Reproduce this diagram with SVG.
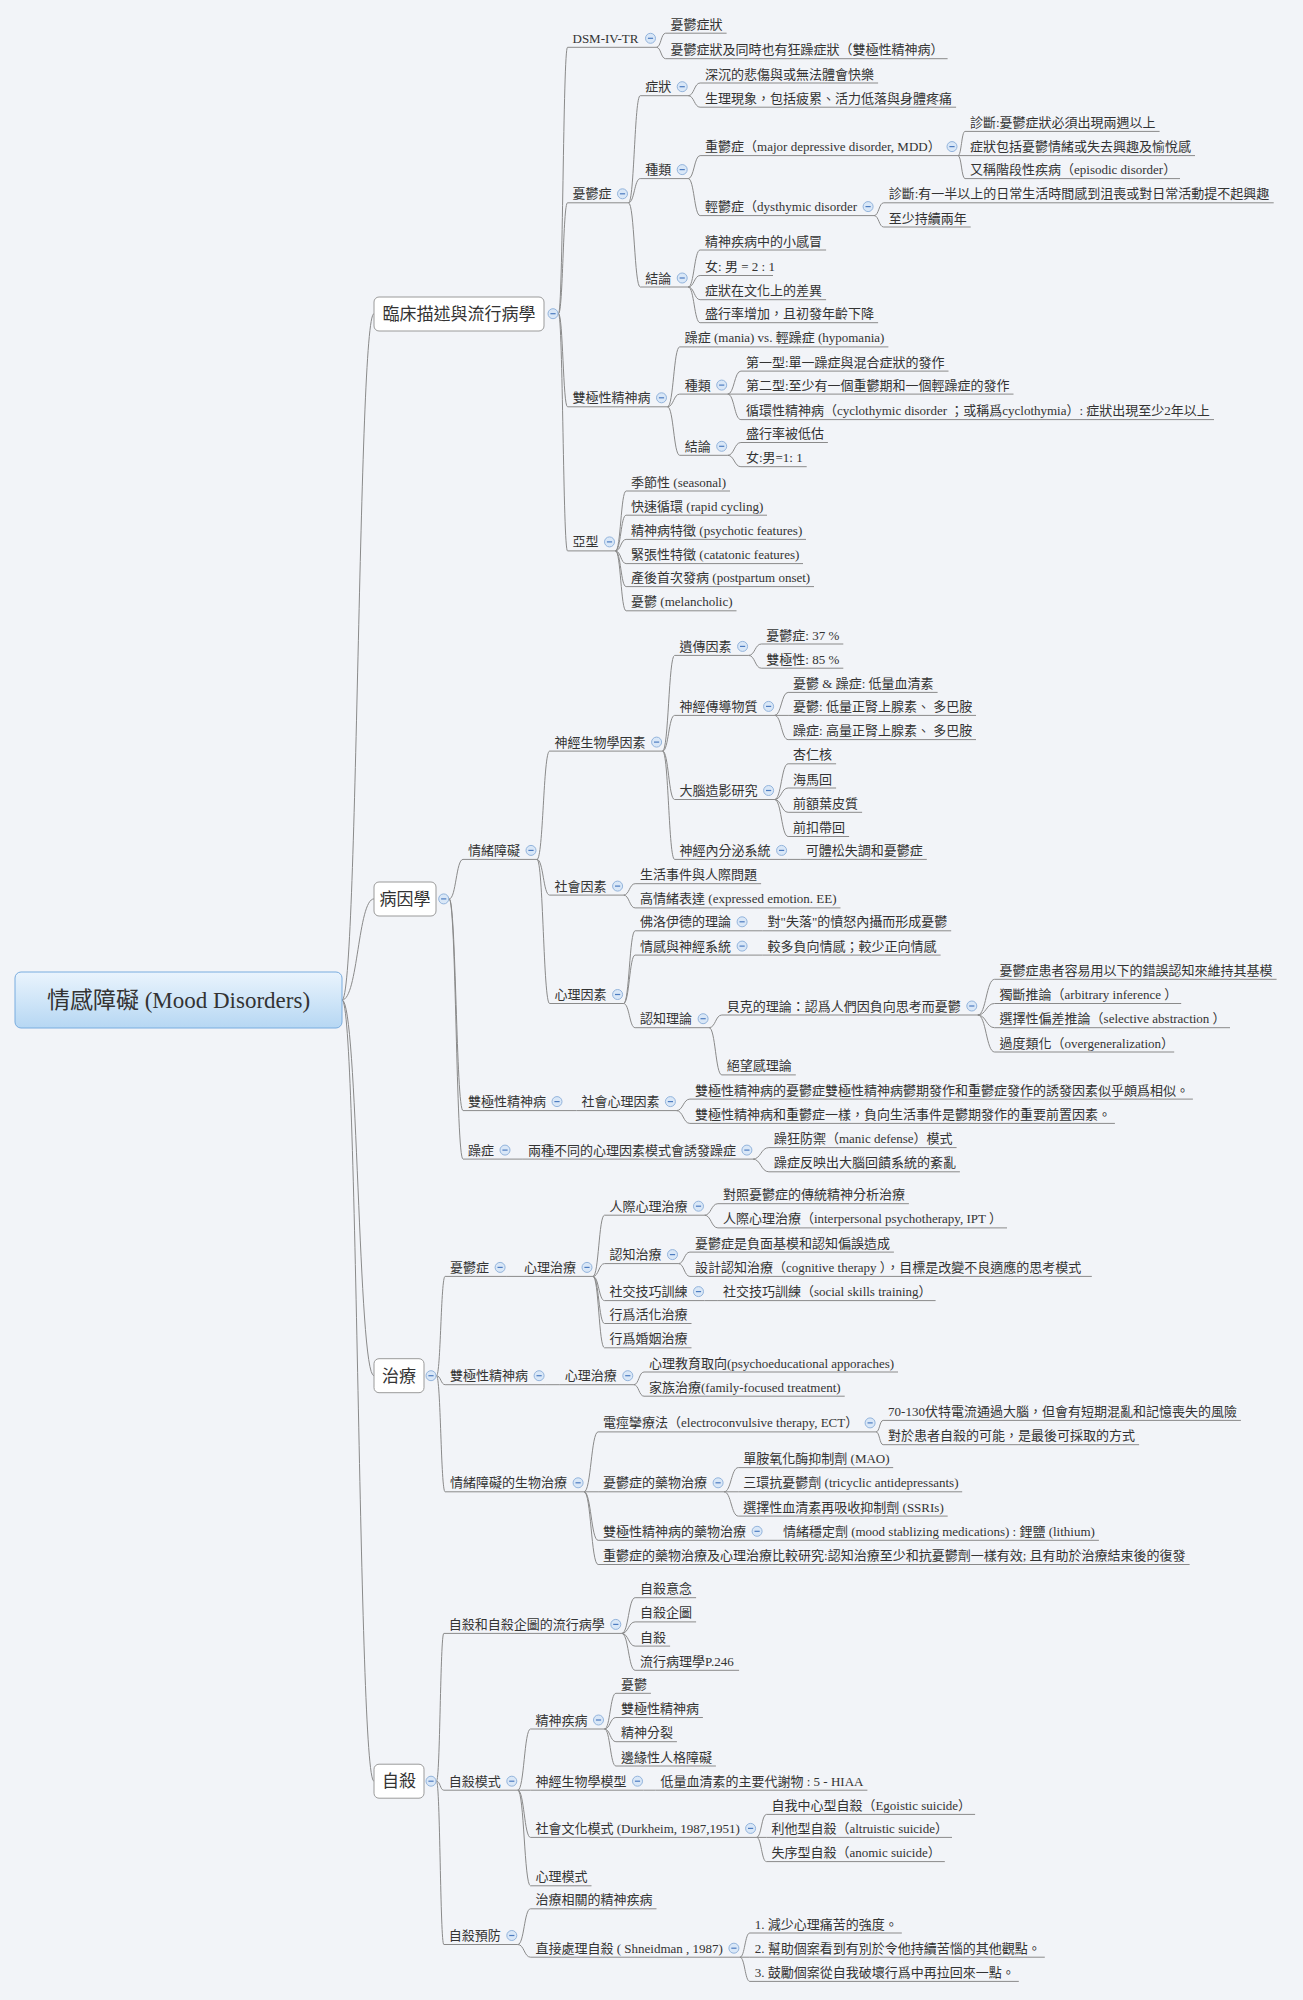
<svg xmlns="http://www.w3.org/2000/svg" xmlns:xlink="http://www.w3.org/1999/xlink" width="1303" height="2000" viewBox="0 0 1303 2000">
<style>
.t{font-family:"Liberation Serif","Noto Sans CJK TC",serif;font-size:13px;fill:#333}
.bt{font-family:"Liberation Serif","Noto Sans CJK TC",serif;font-size:17px;fill:#333;text-anchor:middle}
.rt{font-family:"Liberation Serif","Noto Sans CJK TC",serif;font-size:23px;fill:#333;text-anchor:middle}
.u{fill:none;stroke:#8a8a8a;stroke-width:1}
.c{fill:none;stroke:#8a8a8a;stroke-width:1}
.b{fill:#fff;stroke:#9a9a9a;stroke-width:1}
.tgc{fill:#d9e7f7;stroke:#93b4dc;stroke-width:1}
.tgm{stroke:#4d7cc0;stroke-width:1.2}
</style>
<defs>
<linearGradient id="rg" x1="0" y1="0" x2="0" y2="1"><stop offset="0" stop-color="#eaf4fd"/><stop offset="1" stop-color="#b6d7f3"/></linearGradient>
<g id="tog"><circle class="tgc" r="5"/><path class="tgm" d="M-2.6 0H2.6"/></g>
</defs>
<rect width="1303" height="2000" fill="#f2f4f8"/>

<g id="connectors">
<path class="c" d="M342 1000C358 1000 358 313.7 374 313.7M342 1000C358 1000 358 898.9 374 898.9M342 1000C358 1000 358 1375.7 374 1375.7M342 1000C358 1000 358 1781.2 374 1781.2"/>
<path class="c" d="M558.5 313.7C563 313.7 563 47.3 567.5 47.3M558.5 313.7C563 313.7 563 202.8 567.5 202.8M558.5 313.7C563 313.7 563 406.8 567.5 406.8M558.5 313.7C563 313.7 563 550.9 567.5 550.9"/>
<path class="c" d="M656.5 47.3C661 47.3 661 33.2 665.6 33.2M656.5 47.3C661 47.3 661 58.7 665.6 58.7"/>
<path class="c" d="M628.5 202.8C634.4 202.8 634.4 95.7 640.2 95.7M628.5 202.8C634.4 202.8 634.4 178.6 640.2 178.6M628.5 202.8C634.4 202.8 634.4 287 640.2 287"/>
<path class="c" d="M688.2 95.7C694.2 95.7 694.2 83 700.1 83M688.2 95.7C694.2 95.7 694.2 107.2 700.1 107.2"/>
<path class="c" d="M688.2 178.6C694.2 178.6 694.2 155.6 700.1 155.6M688.2 178.6C694.2 178.6 694.2 215.6 700.1 215.6"/>
<path class="c" d="M958 155.6C961.5 155.6 961.5 131.4 965 131.4M958 155.6H965M958 155.6C961.5 155.6 961.5 178.6 965 178.6"/>
<path class="c" d="M874.1 215.6C878.9 215.6 878.9 202.8 883.7 202.8M874.1 215.6C878.9 215.6 878.9 227 883.7 227"/>
<path class="c" d="M688.2 287C694.2 287 694.2 250 700.1 250M688.2 287C694.2 287 694.2 275.5 700.1 275.5M688.2 287C694.2 287 694.2 299.7 700.1 299.7M688.2 287C694.2 287 694.2 322.7 700.1 322.7"/>
<path class="c" d="M667.5 406.8C673.6 406.8 673.6 346.9 679.7 346.9M667.5 406.8C673.6 406.8 673.6 394.1 679.7 394.1M667.5 406.8C673.6 406.8 673.6 455.3 679.7 455.3"/>
<path class="c" d="M727.7 394.1C734.3 394.1 734.3 371.1 740.9 371.1M727.7 394.1H740.9M727.7 394.1C734.3 394.1 734.3 419.6 740.9 419.6"/>
<path class="c" d="M727.7 455.3C734.3 455.3 734.3 442.5 740.9 442.5M727.7 455.3C734.3 455.3 734.3 466.7 740.9 466.7"/>
<path class="c" d="M615.5 550.9C620.8 550.9 620.8 491 626.1 491M615.5 550.9C620.8 550.9 620.8 515.2 626.1 515.2M615.5 550.9C620.8 550.9 620.8 539.4 626.1 539.4M615.5 550.9C620.8 550.9 620.8 563.6 626.1 563.6M615.5 550.9C620.8 550.9 620.8 586.6 626.1 586.6M615.5 550.9C620.8 550.9 620.8 610.8 626.1 610.8"/>
<path class="c" d="M449.2 898.9C456.1 898.9 456.1 859.4 463 859.4M449.2 898.9C456.1 898.9 456.1 1110.6 463 1110.6M449.2 898.9C456.1 898.9 456.1 1159.1 463 1159.1"/>
<path class="c" d="M537 859.4C543.3 859.4 543.3 751.1 549.6 751.1M537 859.4C543.3 859.4 543.3 895.1 549.6 895.1M537 859.4C543.3 859.4 543.3 1003.5 549.6 1003.5"/>
<path class="c" d="M662.6 751.1C668.6 751.1 668.6 655.4 674.6 655.4M662.6 751.1C668.6 751.1 668.6 715.4 674.6 715.4M662.6 751.1C668.6 751.1 668.6 799.5 674.6 799.5M662.6 751.1C668.6 751.1 668.6 859.4 674.6 859.4"/>
<path class="c" d="M748.6 655.4C755 655.4 755 644 761.3 644M748.6 655.4C755 655.4 755 668.2 761.3 668.2"/>
<path class="c" d="M774.6 715.4C781.4 715.4 781.4 692.4 788.1 692.4M774.6 715.4H788.1M774.6 715.4C781.4 715.4 781.4 739.6 788.1 739.6"/>
<path class="c" d="M774.6 799.5C781.4 799.5 781.4 763.8 788.1 763.8M774.6 799.5C781.4 799.5 781.4 788 788.1 788M774.6 799.5C781.4 799.5 781.4 812.3 788.1 812.3M774.6 799.5C781.4 799.5 781.4 836.5 788.1 836.5"/>
<path class="c" d="M787.6 859.4H800.8"/>
<path class="c" d="M623.6 895.1C629.4 895.1 629.4 883.7 635.1 883.7M623.6 895.1C629.4 895.1 629.4 907.9 635.1 907.9"/>
<path class="c" d="M623.6 1003.5C629.4 1003.5 629.4 930.8 635.1 930.8M623.6 1003.5C629.4 1003.5 629.4 955.1 635.1 955.1M623.6 1003.5C629.4 1003.5 629.4 1027.7 635.1 1027.7"/>
<path class="c" d="M748.1 930.8H762.6M748.1 955.1H762.6"/>
<path class="c" d="M709.1 1027.7C715.5 1027.7 715.5 1015 721.8 1015M709.1 1027.7C715.5 1027.7 715.5 1074.9 721.8 1074.9"/>
<path class="c" d="M977.8 1015C986.2 1015 986.2 979.3 994.6 979.3M977.8 1015C986.2 1015 986.2 1003.5 994.6 1003.5M977.8 1015C986.2 1015 986.2 1027.7 994.6 1027.7M977.8 1015C986.2 1015 986.2 1052 994.6 1052"/>
<path class="c" d="M563 1110.6H576.4M676.4 1110.6C683.2 1110.6 683.2 1099.1 689.9 1099.1M676.4 1110.6C683.2 1110.6 683.2 1123.4 689.9 1123.4"/>
<path class="c" d="M511 1159.1H522.9M752.9 1159.1C760.9 1159.1 760.9 1147.6 768.9 1147.6M752.9 1159.1C760.9 1159.1 760.9 1171.8 768.9 1171.8"/>
<path class="c" d="M436.5 1375.7C440.8 1375.7 440.8 1276.4 445.1 1276.4M436.5 1375.7C440.8 1375.7 440.8 1384.7 445.1 1384.7M436.5 1375.7C440.8 1375.7 440.8 1491.8 445.1 1491.8"/>
<path class="c" d="M506.1 1276.4H519"/>
<path class="c" d="M593 1276.4C598.8 1276.4 598.8 1215.2 604.5 1215.2M593 1276.4C598.8 1276.4 598.8 1263.6 604.5 1263.6M593 1276.4C598.8 1276.4 598.8 1300.6 604.5 1300.6M593 1276.4C598.8 1276.4 598.8 1323.5 604.5 1323.5M593 1276.4C598.8 1276.4 598.8 1347.8 604.5 1347.8"/>
<path class="c" d="M704.5 1215.2C711.2 1215.2 711.2 1203.7 717.9 1203.7M704.5 1215.2C711.2 1215.2 711.2 1227.9 717.9 1227.9"/>
<path class="c" d="M678.5 1263.6C684.2 1263.6 684.2 1252.1 689.9 1252.1M678.5 1263.6C684.2 1263.6 684.2 1276.4 689.9 1276.4"/>
<path class="c" d="M704.5 1300.6H717.9"/>
<path class="c" d="M545.1 1384.7H559.8M633.8 1384.7C638.9 1384.7 638.9 1372 644 1372M633.8 1384.7C638.9 1384.7 638.9 1396.2 644 1396.2"/>
<path class="c" d="M584.1 1491.8C591.1 1491.8 591.1 1431.9 598.1 1431.9M584.1 1491.8H598.1M584.1 1491.8C591.1 1491.8 591.1 1540.3 598.1 1540.3M584.1 1491.8C591.1 1491.8 591.1 1564.5 598.1 1564.5"/>
<path class="c" d="M876.1 1431.9C879.6 1431.9 879.6 1420.4 883.1 1420.4M876.1 1431.9C879.6 1431.9 879.6 1444.7 883.1 1444.7"/>
<path class="c" d="M724.1 1491.8C731.2 1491.8 731.2 1467.6 738.3 1467.6M724.1 1491.8H738.3M724.1 1491.8C731.2 1491.8 731.2 1516.1 738.3 1516.1"/>
<path class="c" d="M763.1 1540.3H777.9"/>
<path class="c" d="M436.5 1781.2C440.2 1781.2 440.2 1633.4 443.8 1633.4M436.5 1781.2C440.2 1781.2 440.2 1790.2 443.8 1790.2M436.5 1781.2C440.2 1781.2 440.2 1944.5 443.8 1944.5"/>
<path class="c" d="M621.8 1633.4C628.5 1633.4 628.5 1597.7 635.1 1597.7M621.8 1633.4C628.5 1633.4 628.5 1621.9 635.1 1621.9M621.8 1633.4C628.5 1633.4 628.5 1646.1 635.1 1646.1M621.8 1633.4C628.5 1633.4 628.5 1670.3 635.1 1670.3"/>
<path class="c" d="M517.8 1790.2C524.2 1790.2 524.2 1729 530.5 1729M517.8 1790.2H530.5M517.8 1790.2C524.2 1790.2 524.2 1837.4 530.5 1837.4M517.8 1790.2C524.2 1790.2 524.2 1885.8 530.5 1885.8"/>
<path class="c" d="M604.5 1729C610.2 1729 610.2 1693.3 615.9 1693.3M604.5 1729C610.2 1729 610.2 1717.5 615.9 1717.5M604.5 1729C610.2 1729 610.2 1741.7 615.9 1741.7M604.5 1729C610.2 1729 610.2 1766 615.9 1766"/>
<path class="c" d="M643.5 1790.2H655.5"/>
<path class="c" d="M756.6 1837.4C761.5 1837.4 761.5 1814.4 766.4 1814.4M756.6 1837.4H766.4M756.6 1837.4C761.5 1837.4 761.5 1861.6 766.4 1861.6"/>
<path class="c" d="M517.8 1944.5C524.2 1944.5 524.2 1908.8 530.5 1908.8M517.8 1944.5C524.2 1944.5 524.2 1957.2 530.5 1957.2"/>
<path class="c" d="M739.9 1957.2C744.9 1957.2 744.9 1933 749.8 1933M739.9 1957.2H749.8M739.9 1957.2C744.9 1957.2 744.9 1981.4 749.8 1981.4"/>
</g>

<g id="root"><rect x="15" y="972" width="327" height="56" rx="6" fill="url(#rg)" stroke="#79acdf"/><text class="rt" x="178.5" y="1008">情感障礙 (Mood Disorders)</text></g>

<g id="n-clinical"><rect class="b" x="374" y="297" width="170" height="34" rx="5"/><text class="bt" x="459" y="319.7">臨床描述與流行病學</text><use xlink:href="#tog" x="553" y="313.7"/></g>
<g id="n-dsm"><path class="u" d="M567.5 47.3H656.5"/><text class="t" x="572.5" y="42.8">DSM-IV-TR</text><use xlink:href="#tog" x="650.5" y="38.3"/></g>
<g id="n-dsm-1"><path class="u" d="M665.6 33.2H726.6"/><text class="t" x="670.6" y="28.7">憂鬱症狀</text></g>
<g id="n-dsm-2"><path class="u" d="M665.6 58.7H947.6"/><text class="t" x="670.6" y="54.2">憂鬱症狀及同時也有狂躁症狀（雙極性精神病）</text></g>
<g id="n-dep"><path class="u" d="M567.5 202.8H628.5"/><text class="t" x="572.5" y="198.3">憂鬱症</text><use xlink:href="#tog" x="622.5" y="193.8"/></g>
<g id="n-dep-sym"><path class="u" d="M640.2 95.7H688.2"/><text class="t" x="645.2" y="91.2">症狀</text><use xlink:href="#tog" x="682.2" y="86.7"/></g>
<g id="n-dep-sym-1"><path class="u" d="M700.1 83H878.1"/><text class="t" x="705.1" y="78.5">深沉的悲傷與或無法體會快樂</text></g>
<g id="n-dep-sym-2"><path class="u" d="M700.1 107.2H956.1"/><text class="t" x="705.1" y="102.7">生理現象，包括疲累、活力低落與身體疼痛</text></g>
<g id="n-dep-type"><path class="u" d="M640.2 178.6H688.2"/><text class="t" x="645.2" y="174.1">種類</text><use xlink:href="#tog" x="682.2" y="169.6"/></g>
<g id="n-mdd"><path class="u" d="M700.1 155.6H958"/><text class="t" x="705.1" y="151.1">重鬱症（major depressive disorder, MDD）</text><use xlink:href="#tog" x="952" y="146.6"/></g>
<g id="n-mdd-1"><path class="u" d="M965 131.4H1159.6"/><text class="t" x="970" y="126.9">診斷:憂鬱症狀必須出現兩週以上</text></g>
<g id="n-mdd-2"><path class="u" d="M965 155.6H1195"/><text class="t" x="970" y="151.1">症狀包括憂鬱情緒或失去興趣及愉悅感</text></g>
<g id="n-mdd-3"><path class="u" d="M965 178.6H1180"/><text class="t" x="970" y="174.1">又稱階段性疾病（episodic disorder）</text></g>
<g id="n-dys"><path class="u" d="M700.1 215.6H874.1"/><text class="t" x="705.1" y="211.1">輕鬱症（dysthymic disorder</text><use xlink:href="#tog" x="868.1" y="206.6"/></g>
<g id="n-dys-1"><path class="u" d="M883.7 202.8H1273.7"/><text class="t" x="888.7" y="198.3">診斷:有一半以上的日常生活時間感到沮喪或對日常活動提不起興趣</text></g>
<g id="n-dys-2"><path class="u" d="M883.7 227H970.7"/><text class="t" x="888.7" y="222.5">至少持續兩年</text></g>
<g id="n-dep-con"><path class="u" d="M640.2 287H688.2"/><text class="t" x="645.2" y="282.5">結論</text><use xlink:href="#tog" x="682.2" y="278"/></g>
<g id="n-dep-con-1"><path class="u" d="M700.1 250H826.1"/><text class="t" x="705.1" y="245.5">精神疾病中的小感冒</text></g>
<g id="n-dep-con-2"><path class="u" d="M700.1 275.5H773"/><text class="t" x="705.1" y="271">女: 男 = 2 : 1</text></g>
<g id="n-dep-con-3"><path class="u" d="M700.1 299.7H826.1"/><text class="t" x="705.1" y="295.2">症狀在文化上的差異</text></g>
<g id="n-dep-con-4"><path class="u" d="M700.1 322.7H878.1"/><text class="t" x="705.1" y="318.2">盛行率增加，且初發年齡下降</text></g>
<g id="n-bip"><path class="u" d="M567.5 406.8H667.5"/><text class="t" x="572.5" y="402.3">雙極性精神病</text><use xlink:href="#tog" x="661.5" y="397.8"/></g>
<g id="n-bip-1"><path class="u" d="M679.7 346.9H888.4"/><text class="t" x="684.7" y="342.4">躁症 (mania) vs. 輕躁症 (hypomania)</text></g>
<g id="n-bip-type"><path class="u" d="M679.7 394.1H727.7"/><text class="t" x="684.7" y="389.6">種類</text><use xlink:href="#tog" x="721.7" y="385.1"/></g>
<g id="n-bip-type-1"><path class="u" d="M740.9 371.1H948.5"/><text class="t" x="745.9" y="366.6">第一型:單一躁症與混合症狀的發作</text></g>
<g id="n-bip-type-2"><path class="u" d="M740.9 394.1H1013.5"/><text class="t" x="745.9" y="389.6">第二型:至少有一個重鬱期和一個輕躁症的發作</text></g>
<g id="n-bip-type-3"><path class="u" d="M740.9 419.6H1214"/><text class="t" x="745.9" y="415.1">循環性精神病（cyclothymic disorder ；或稱爲cyclothymia）: 症狀出現至少2年以上</text></g>
<g id="n-bip-con"><path class="u" d="M679.7 455.3H727.7"/><text class="t" x="684.7" y="450.8">結論</text><use xlink:href="#tog" x="721.7" y="446.3"/></g>
<g id="n-bip-con-1"><path class="u" d="M740.9 442.5H827.9"/><text class="t" x="745.9" y="438">盛行率被低估</text></g>
<g id="n-bip-con-2"><path class="u" d="M740.9 466.7H806.7"/><text class="t" x="745.9" y="462.2">女:男=1: 1</text></g>
<g id="n-sub"><path class="u" d="M567.5 550.9H615.5"/><text class="t" x="572.5" y="546.4">亞型</text><use xlink:href="#tog" x="609.5" y="541.9"/></g>
<g id="n-sub-1"><path class="u" d="M626.1 491H730"/><text class="t" x="631.1" y="486.5">季節性 (seasonal)</text></g>
<g id="n-sub-2"><path class="u" d="M626.1 515.2H767"/><text class="t" x="631.1" y="510.7">快速循環 (rapid cycling)</text></g>
<g id="n-sub-3"><path class="u" d="M626.1 539.4H806"/><text class="t" x="631.1" y="534.9">精神病特徵 (psychotic features)</text></g>
<g id="n-sub-4"><path class="u" d="M626.1 563.6H803"/><text class="t" x="631.1" y="559.1">緊張性特徵 (catatonic features)</text></g>
<g id="n-sub-5"><path class="u" d="M626.1 586.6H814"/><text class="t" x="631.1" y="582.1">產後首次發病 (postpartum onset)</text></g>
<g id="n-sub-6"><path class="u" d="M626.1 610.8H736.5"/><text class="t" x="631.1" y="606.3">憂鬱 (melancholic)</text></g>

<g id="n-etio"><rect class="b" x="374" y="882" width="62" height="34" rx="5"/><text class="bt" x="405" y="904.9">病因學</text><use xlink:href="#tog" x="443.7" y="898.9"/></g>
<g id="n-mood"><path class="u" d="M463 859.4H537"/><text class="t" x="468" y="854.9">情緒障礙</text><use xlink:href="#tog" x="531" y="850.4"/></g>
<g id="n-neuro"><path class="u" d="M549.6 751.1H662.6"/><text class="t" x="554.6" y="746.6">神經生物學因素</text><use xlink:href="#tog" x="656.6" y="742.1"/></g>
<g id="n-gene"><path class="u" d="M674.6 655.4H748.6"/><text class="t" x="679.6" y="650.9">遺傳因素</text><use xlink:href="#tog" x="742.6" y="646.4"/></g>
<g id="n-gene-1"><path class="u" d="M761.3 644H843.3"/><text class="t" x="766.3" y="639.5">憂鬱症: 37 %</text></g>
<g id="n-gene-2"><path class="u" d="M761.3 668.2H843.3"/><text class="t" x="766.3" y="663.7">雙極性: 85 %</text></g>
<g id="n-nt"><path class="u" d="M674.6 715.4H774.6"/><text class="t" x="679.6" y="710.9">神經傳導物質</text><use xlink:href="#tog" x="768.6" y="706.4"/></g>
<g id="n-nt-1"><path class="u" d="M788.1 692.4H937.6"/><text class="t" x="793.1" y="687.9">憂鬱 &amp; 躁症: 低量血清素</text></g>
<g id="n-nt-2"><path class="u" d="M788.1 715.4H976"/><text class="t" x="793.1" y="710.9">憂鬱: 低量正腎上腺素、 多巴胺</text></g>
<g id="n-nt-3"><path class="u" d="M788.1 739.6H976"/><text class="t" x="793.1" y="735.1">躁症: 高量正腎上腺素、 多巴胺</text></g>
<g id="n-brain"><path class="u" d="M674.6 799.5H774.6"/><text class="t" x="679.6" y="795">大腦造影研究</text><use xlink:href="#tog" x="768.6" y="790.5"/></g>
<g id="n-brain-1"><path class="u" d="M788.1 763.8H836.1"/><text class="t" x="793.1" y="759.3">杏仁核</text></g>
<g id="n-brain-2"><path class="u" d="M788.1 788H836.1"/><text class="t" x="793.1" y="783.5">海馬回</text></g>
<g id="n-brain-3"><path class="u" d="M788.1 812.3H862.1"/><text class="t" x="793.1" y="807.8">前額葉皮質</text></g>
<g id="n-brain-4"><path class="u" d="M788.1 836.5H849.1"/><text class="t" x="793.1" y="832">前扣帶回</text></g>
<g id="n-endo"><path class="u" d="M674.6 859.4H787.6"/><text class="t" x="679.6" y="854.9">神經內分泌系統</text><use xlink:href="#tog" x="781.6" y="850.4"/></g>
<g id="n-endo-1"><path class="u" d="M800.8 859.4H926.8"/><text class="t" x="805.8" y="854.9">可體松失調和憂鬱症</text></g>
<g id="n-social"><path class="u" d="M549.6 895.1H623.6"/><text class="t" x="554.6" y="890.6">社會因素</text><use xlink:href="#tog" x="617.6" y="886.1"/></g>
<g id="n-social-1"><path class="u" d="M635.1 883.7H761.1"/><text class="t" x="640.1" y="879.2">生活事件與人際問題</text></g>
<g id="n-social-2"><path class="u" d="M635.1 907.9H840.5"/><text class="t" x="640.1" y="903.4">高情緒表達 (expressed emotion. EE)</text></g>
<g id="n-psy"><path class="u" d="M549.6 1003.5H623.6"/><text class="t" x="554.6" y="999">心理因素</text><use xlink:href="#tog" x="617.6" y="994.5"/></g>
<g id="n-freud"><path class="u" d="M635.1 930.8H748.1"/><text class="t" x="640.1" y="926.3">佛洛伊德的理論</text><use xlink:href="#tog" x="742.1" y="921.8"/></g>
<g id="n-freud-1"><path class="u" d="M762.6 930.8H951.2"/><text class="t" x="767.6" y="926.3">對"失落"的憤怒內攝而形成憂鬱</text></g>
<g id="n-aff"><path class="u" d="M635.1 955.1H748.1"/><text class="t" x="640.1" y="950.6">情感與神經系統</text><use xlink:href="#tog" x="742.1" y="946.1"/></g>
<g id="n-aff-1"><path class="u" d="M762.6 955.1H940.6"/><text class="t" x="767.6" y="950.6">較多負向情感；較少正向情感</text></g>
<g id="n-cog"><path class="u" d="M635.1 1027.7H709.1"/><text class="t" x="640.1" y="1023.2">認知理論</text><use xlink:href="#tog" x="703.1" y="1018.7"/></g>
<g id="n-beck"><path class="u" d="M721.8 1015H977.8"/><text class="t" x="726.8" y="1010.5">貝克的理論：認爲人們因負向思考而憂鬱</text><use xlink:href="#tog" x="971.8" y="1006"/></g>
<g id="n-beck-1"><path class="u" d="M994.6 979.3H1276.6"/><text class="t" x="999.6" y="974.8">憂鬱症患者容易用以下的錯誤認知來維持其基模</text></g>
<g id="n-beck-2"><path class="u" d="M994.6 1003.5H1181.2"/><text class="t" x="999.6" y="999">獨斷推論（arbitrary inference ）</text></g>
<g id="n-beck-3"><path class="u" d="M994.6 1027.7H1230"/><text class="t" x="999.6" y="1023.2">選擇性偏差推論（selective abstraction ）</text></g>
<g id="n-beck-4"><path class="u" d="M994.6 1052H1174.2"/><text class="t" x="999.6" y="1047.5">過度類化（overgeneralization）</text></g>
<g id="n-hope"><path class="u" d="M721.8 1074.9H795.8"/><text class="t" x="726.8" y="1070.4">絕望感理論</text></g>
<g id="n-bip2"><path class="u" d="M463 1110.6H563"/><text class="t" x="468" y="1106.1">雙極性精神病</text><use xlink:href="#tog" x="557" y="1101.6"/></g>
<g id="n-psysoc"><path class="u" d="M576.4 1110.6H676.4"/><text class="t" x="581.4" y="1106.1">社會心理因素</text><use xlink:href="#tog" x="670.4" y="1101.6"/></g>
<g id="n-psysoc-1"><path class="u" d="M689.9 1099.1H1192.9"/><text class="t" x="694.9" y="1094.6">雙極性精神病的憂鬱症雙極性精神病鬱期發作和重鬱症發作的誘發因素似乎頗爲相似。</text></g>
<g id="n-psysoc-2"><path class="u" d="M689.9 1123.4H1114.9"/><text class="t" x="694.9" y="1118.9">雙極性精神病和重鬱症一樣，負向生活事件是鬱期發作的重要前置因素。</text></g>
<g id="n-mania"><path class="u" d="M463 1159.1H511"/><text class="t" x="468" y="1154.6">躁症</text><use xlink:href="#tog" x="505" y="1150.1"/></g>
<g id="n-mania-1"><path class="u" d="M522.9 1159.1H752.9"/><text class="t" x="527.9" y="1154.6">兩種不同的心理因素模式會誘發躁症</text><use xlink:href="#tog" x="746.9" y="1150.1"/></g>
<g id="n-mania-1a"><path class="u" d="M768.9 1147.6H956.6"/><text class="t" x="773.9" y="1143.1">躁狂防禦（manic defense）模式</text></g>
<g id="n-mania-1b"><path class="u" d="M768.9 1171.8H959.9"/><text class="t" x="773.9" y="1167.3">躁症反映出大腦回饋系統的紊亂</text></g>

<g id="n-treat"><rect class="b" x="374" y="1358.7" width="50" height="34" rx="5"/><text class="bt" x="399" y="1381.7">治療</text><use xlink:href="#tog" x="431" y="1375.7"/></g>
<g id="n-tdep"><path class="u" d="M445.1 1276.4H506.1"/><text class="t" x="450.1" y="1271.9">憂鬱症</text><use xlink:href="#tog" x="500.1" y="1267.4"/></g>
<g id="n-tdep-psy"><path class="u" d="M519 1276.4H593"/><text class="t" x="524" y="1271.9">心理治療</text><use xlink:href="#tog" x="587" y="1267.4"/></g>
<g id="n-ipt"><path class="u" d="M604.5 1215.2H704.5"/><text class="t" x="609.5" y="1210.7">人際心理治療</text><use xlink:href="#tog" x="698.5" y="1206.2"/></g>
<g id="n-ipt-1"><path class="u" d="M717.9 1203.7H908.9"/><text class="t" x="722.9" y="1199.2">對照憂鬱症的傳統精神分析治療</text></g>
<g id="n-ipt-2"><path class="u" d="M717.9 1227.9H1007"/><text class="t" x="722.9" y="1223.4">人際心理治療（interpersonal psychotherapy, IPT ）</text></g>
<g id="n-ct"><path class="u" d="M604.5 1263.6H678.5"/><text class="t" x="609.5" y="1259.1">認知治療</text><use xlink:href="#tog" x="672.5" y="1254.6"/></g>
<g id="n-ct-1"><path class="u" d="M689.9 1252.1H893.9"/><text class="t" x="694.9" y="1247.6">憂鬱症是負面基模和認知偏誤造成</text></g>
<g id="n-ct-2"><path class="u" d="M689.9 1276.4H1091.8"/><text class="t" x="694.9" y="1271.9">設計認知治療（cognitive therapy ），目標是改變不良適應的思考模式</text></g>
<g id="n-sst"><path class="u" d="M604.5 1300.6H704.5"/><text class="t" x="609.5" y="1296.1">社交技巧訓練</text><use xlink:href="#tog" x="698.5" y="1291.6"/></g>
<g id="n-sst-1"><path class="u" d="M717.9 1300.6H935.6"/><text class="t" x="722.9" y="1296.1">社交技巧訓練（social skills training）</text></g>
<g id="n-ba"><path class="u" d="M604.5 1323.5H691.5"/><text class="t" x="609.5" y="1319">行爲活化治療</text></g>
<g id="n-bm"><path class="u" d="M604.5 1347.8H691.5"/><text class="t" x="609.5" y="1343.3">行爲婚姻治療</text></g>
<g id="n-tbip"><path class="u" d="M445.1 1384.7H545.1"/><text class="t" x="450.1" y="1380.2">雙極性精神病</text><use xlink:href="#tog" x="539.1" y="1375.7"/></g>
<g id="n-tbip-psy"><path class="u" d="M559.8 1384.7H633.8"/><text class="t" x="564.8" y="1380.2">心理治療</text><use xlink:href="#tog" x="627.8" y="1375.7"/></g>
<g id="n-tbip-1"><path class="u" d="M644 1372H898"/><text class="t" x="649" y="1367.5">心理教育取向(psychoeducational apporaches)</text></g>
<g id="n-tbip-2"><path class="u" d="M644 1396.2H844.7"/><text class="t" x="649" y="1391.7">家族治療(family-focused treatment)</text></g>
<g id="n-bio"><path class="u" d="M445.1 1491.8H584.1"/><text class="t" x="450.1" y="1487.3">情緒障礙的生物治療</text><use xlink:href="#tog" x="578.1" y="1482.8"/></g>
<g id="n-ect"><path class="u" d="M598.1 1431.9H876.1"/><text class="t" x="603.1" y="1427.4">電痙攣療法（electroconvulsive therapy, ECT）</text><use xlink:href="#tog" x="870.1" y="1422.9"/></g>
<g id="n-ect-1"><path class="u" d="M883.1 1420.4H1240.9"/><text class="t" x="888.1" y="1415.9">70-130伏特電流通過大腦，但會有短期混亂和記憶喪失的風險</text></g>
<g id="n-ect-2"><path class="u" d="M883.1 1444.7H1139.1"/><text class="t" x="888.1" y="1440.2">對於患者自殺的可能，是最後可採取的方式</text></g>
<g id="n-drug"><path class="u" d="M598.1 1491.8H724.1"/><text class="t" x="603.1" y="1487.3">憂鬱症的藥物治療</text><use xlink:href="#tog" x="718.1" y="1482.8"/></g>
<g id="n-drug-1"><path class="u" d="M738.3 1467.6H893.2"/><text class="t" x="743.3" y="1463.1">單胺氧化酶抑制劑 (MAO)</text></g>
<g id="n-drug-2"><path class="u" d="M738.3 1491.8H962.2"/><text class="t" x="743.3" y="1487.3">三環抗憂鬱劑 (tricyclic antidepressants)</text></g>
<g id="n-drug-3"><path class="u" d="M738.3 1516.1H947.7"/><text class="t" x="743.3" y="1511.6">選擇性血清素再吸收抑制劑 (SSRIs)</text></g>
<g id="n-bdrug"><path class="u" d="M598.1 1540.3H763.1"/><text class="t" x="603.1" y="1535.8">雙極性精神病的藥物治療</text><use xlink:href="#tog" x="757.1" y="1531.3"/></g>
<g id="n-bdrug-1"><path class="u" d="M777.9 1540.3H1098.9"/><text class="t" x="782.9" y="1535.8">情緒穩定劑 (mood stablizing medications) : 鋰鹽 (lithium)</text></g>
<g id="n-compare"><path class="u" d="M598.1 1564.5H1189.6"/><text class="t" x="603.1" y="1560">重鬱症的藥物治療及心理治療比較研究:認知治療至少和抗憂鬱劑一樣有效; 且有助於治療結束後的復發</text></g>

<g id="n-suicide"><rect class="b" x="374" y="1764.2" width="50" height="34" rx="5"/><text class="bt" x="399" y="1787.2">自殺</text><use xlink:href="#tog" x="431" y="1781.2"/></g>
<g id="n-epi"><path class="u" d="M443.8 1633.4H621.8"/><text class="t" x="448.8" y="1628.9">自殺和自殺企圖的流行病學</text><use xlink:href="#tog" x="615.8" y="1624.4"/></g>
<g id="n-epi-1"><path class="u" d="M635.1 1597.7H696.1"/><text class="t" x="640.1" y="1593.2">自殺意念</text></g>
<g id="n-epi-2"><path class="u" d="M635.1 1621.9H696.1"/><text class="t" x="640.1" y="1617.4">自殺企圖</text></g>
<g id="n-epi-3"><path class="u" d="M635.1 1646.1H670.1"/><text class="t" x="640.1" y="1641.6">自殺</text></g>
<g id="n-epi-4"><path class="u" d="M635.1 1670.3H739.1"/><text class="t" x="640.1" y="1665.8">流行病理學P.246</text></g>
<g id="n-model"><path class="u" d="M443.8 1790.2H517.8"/><text class="t" x="448.8" y="1785.7">自殺模式</text><use xlink:href="#tog" x="511.8" y="1781.2"/></g>
<g id="n-mental"><path class="u" d="M530.5 1729H604.5"/><text class="t" x="535.5" y="1724.5">精神疾病</text><use xlink:href="#tog" x="598.5" y="1720"/></g>
<g id="n-mental-1"><path class="u" d="M615.9 1693.3H650.9"/><text class="t" x="620.9" y="1688.8">憂鬱</text></g>
<g id="n-mental-2"><path class="u" d="M615.9 1717.5H702.9"/><text class="t" x="620.9" y="1713">雙極性精神病</text></g>
<g id="n-mental-3"><path class="u" d="M615.9 1741.7H676.9"/><text class="t" x="620.9" y="1737.2">精神分裂</text></g>
<g id="n-mental-4"><path class="u" d="M615.9 1766H715.9"/><text class="t" x="620.9" y="1761.5">邊緣性人格障礙</text></g>
<g id="n-nbm"><path class="u" d="M530.5 1790.2H643.5"/><text class="t" x="535.5" y="1785.7">神經生物學模型</text><use xlink:href="#tog" x="637.5" y="1781.2"/></g>
<g id="n-nbm-1"><path class="u" d="M655.5 1790.2H867.4"/><text class="t" x="660.5" y="1785.7">低量血清素的主要代謝物 : 5 - HIAA</text></g>
<g id="n-socul"><path class="u" d="M530.5 1837.4H756.6"/><text class="t" x="535.5" y="1832.9">社會文化模式 (Durkheim, 1987,1951)</text><use xlink:href="#tog" x="750.6" y="1828.4"/></g>
<g id="n-socul-1"><path class="u" d="M766.4 1814.4H975.1"/><text class="t" x="771.4" y="1809.9">自我中心型自殺（Egoistic suicide）</text></g>
<g id="n-socul-2"><path class="u" d="M766.4 1837.4H952"/><text class="t" x="771.4" y="1832.9">利他型自殺（altruistic suicide）</text></g>
<g id="n-socul-3"><path class="u" d="M766.4 1861.6H944.8"/><text class="t" x="771.4" y="1857.1">失序型自殺（anomic suicide）</text></g>
<g id="n-psymodel"><path class="u" d="M530.5 1885.8H591.5"/><text class="t" x="535.5" y="1881.3">心理模式</text></g>
<g id="n-prev"><path class="u" d="M443.8 1944.5H517.8"/><text class="t" x="448.8" y="1940">自殺預防</text><use xlink:href="#tog" x="511.8" y="1935.5"/></g>
<g id="n-prev-1"><path class="u" d="M530.5 1908.8H656.5"/><text class="t" x="535.5" y="1904.3">治療相關的精神疾病</text></g>
<g id="n-prev-2"><path class="u" d="M530.5 1957.2H739.9"/><text class="t" x="535.5" y="1952.7">直接處理自殺 ( Shneidman , 1987)</text><use xlink:href="#tog" x="733.9" y="1948.2"/></g>
<g id="n-prev-2a"><path class="u" d="M749.8 1933H901.8"/><text class="t" x="754.8" y="1928.5">1. 減少心理痛苦的強度。</text></g>
<g id="n-prev-2b"><path class="u" d="M749.8 1957.2H1044.8"/><text class="t" x="754.8" y="1952.7">2. 幫助個案看到有別於令他持續苦惱的其他觀點。</text></g>
<g id="n-prev-2c"><path class="u" d="M749.8 1981.4H1018.8"/><text class="t" x="754.8" y="1976.9">3. 鼓勵個案從自我破壞行爲中再拉回來一點。</text></g>
</svg>
